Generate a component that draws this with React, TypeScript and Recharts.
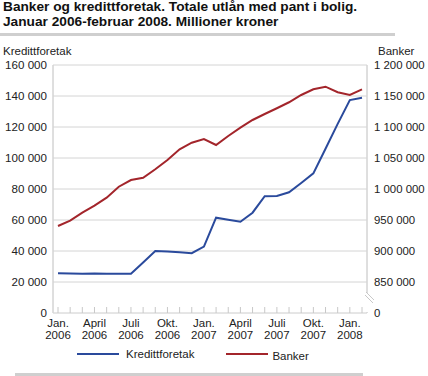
import { LineChart, Line, XAxis, YAxis, CartesianGrid } from 'recharts';

const months = [
  '2006-01', '2006-02', '2006-03', '2006-04', '2006-05', '2006-06', '2006-07', '2006-08', '2006-09',
  '2006-10', '2006-11', '2006-12', '2007-01', '2007-02', '2007-03', '2007-04', '2007-05', '2007-06',
  '2007-07', '2007-08', '2007-09', '2007-10', '2007-11', '2007-12', '2008-01', '2008-02',
];

const kredittforetak = [
  25600, 25500, 25400, 25500, 25300, 25300, 25300, 32600, 40000, 39700, 39200, 38600, 42800,
  61500, 60200, 58900, 64700, 75400, 75500, 77900, 83900, 90100, 106000, 122000, 137400, 138900,
];

const banker = [
  940300, 948900, 961800, 973100, 986000, 1003700, 1014500, 1018200, 1031800, 1046800, 1064000,
  1074700, 1080600, 1071000, 1085500, 1098900, 1111300, 1121000, 1130200, 1139900, 1151600,
  1160800, 1165000, 1156000, 1151600, 1160800,
];

// quarter labels on the x axis
const quarterLabels: Record<string, [string, string]> = {
  '2006-01': ['Jan.', '2006'],
  '2006-04': ['April', '2006'],
  '2006-07': ['Juli', '2006'],
  '2006-10': ['Okt.', '2006'],
  '2007-01': ['Jan.', '2007'],
  '2007-04': ['April', '2007'],
  '2007-07': ['Juli', '2007'],
  '2007-10': ['Okt.', '2007'],
  '2008-01': ['Jan.', '2008'],
};
const quarterMonths = Object.keys(quarterLabels);

const leftTicks = [0, 20000, 40000, 60000, 80000, 100000, 120000, 140000, 160000];
// right axis is broken: the bottom tick stands for 0
const rightTicks = [800000, 850000, 900000, 950000, 1000000, 1050000, 1100000, 1150000, 1200000];

const data = months.map((m, i) => ({ month: m, Kredittforetak: kredittforetak[i], Banker: banker[i] }));

const FONT = '"Liberation Sans", Arial, sans-serif';
const BLUE = '#2a4a9c';
const RED = '#a3252b';
const GRID = '#d4d4d4';

const fmt = (v: number) => v.toLocaleString('en-US').replace(/,/g, ' ');

const MonthTick = (props: any) => {
  const { x, y, payload } = props;
  const q = quarterLabels[payload.value];
  return (
    <g>
      <line x1={x} x2={x} y1={y} y2={y - 6} stroke="#c8c8c8" />
      {q && (
        <text x={x} y={y} textAnchor="middle" fontSize={11.5} fill="#222" fontFamily={FONT}>
          <tspan x={x} dy={14}>{q[0]}</tspan>
          <tspan x={x} dy={11.5}>{q[1]}</tspan>
        </text>
      )}
    </g>
  );
};

const RightTick = (props: any) => {
  const { x, y, payload } = props;
  const isBreak = payload.value === 800000;
  return (
    <g>
      {isBreak && (
        <g>
          <rect x={x - 10} y={y - 20} width={9} height={19} fill="#fff" />
          <line x1={x - 9} y1={y - 18} x2={x - 1} y2={y - 10} stroke="#c8c8c8" />
          <line x1={x - 8} y1={y - 21} x2={x} y2={y - 13} stroke="#c8c8c8" />
        </g>
      )}
      <text x={x} y={y} dy="0.355em" textAnchor="start" fontSize={11.4} fill="#222" fontFamily={FONT}>
        {isBreak ? '0' : fmt(payload.value)}
      </text>
    </g>
  );
};

export default function App() {
  return (
    <div style={{ position: 'absolute', left: 0, top: 0, width: 428, height: 376, background: '#fff', fontFamily: FONT, color: '#111' }}>
      <div style={{ position: 'absolute', left: 3, top: 0, fontSize: 13.7, fontWeight: 'bold', lineHeight: '14.5px' }}>
        Banker og kredittforetak. Totale utlån med pant i bolig.
        <br />
        Januar 2006-februar 2008. Millioner kroner
      </div>
      <div style={{ position: 'absolute', left: 0, top: 33, width: 395, height: 3, background: '#cfcfcf' }} />
      <div style={{ position: 'absolute', left: 3, top: 45, fontSize: 11.5, color: '#222' }}>Kredittforetak</div>
      <div style={{ position: 'absolute', left: 378, top: 45, fontSize: 11.5, color: '#222' }}>Banker</div>

      <div style={{ position: 'absolute', left: 0, top: 0 }}>
        <LineChart width={428} height={376} data={data} margin={{ top: 65, right: 0, bottom: 33, left: 0 }}>
          <CartesianGrid yAxisId="left" xAxisId="q" stroke={GRID} />
          <XAxis
            dataKey="month"
            interval={0}
            tick={<MonthTick />}
            tickLine={false}
            tickSize={0}
            tickMargin={0}
            height={30}
            padding={{ left: 5, right: 5 }}
            axisLine={{ stroke: '#e2e2e2' }}
          />
          <XAxis
            xAxisId="q"
            dataKey="month"
            ticks={quarterMonths}
            interval={0}
            tick={false}
            tickLine={false}
            axisLine={false}
            height={0}
            padding={{ left: 5, right: 5 }}
          />
          <YAxis
            yAxisId="left"
            width={53}
            domain={[0, 160000]}
            ticks={leftTicks}
            tickFormatter={fmt}
            tickLine={false}
            tickSize={0}
            tickMargin={6}
            axisLine={{ stroke: GRID }}
            tick={{ fontSize: 11.6, fill: '#222', fontFamily: FONT }}
          />
          <YAxis
            yAxisId="right"
            orientation="right"
            width={61}
            domain={[800000, 1200000]}
            ticks={rightTicks}
            tickLine={false}
            tickSize={0}
            tickMargin={7}
            axisLine={{ stroke: GRID }}
            tick={<RightTick />}
          />
          <Line yAxisId="left" dataKey="Kredittforetak" stroke={BLUE} strokeWidth={2} dot={false} isAnimationActive={false} />
          <Line yAxisId="right" dataKey="Banker" stroke={RED} strokeWidth={2} dot={false} isAnimationActive={false} />
        </LineChart>
      </div>

      <div style={{ position: 'absolute', left: 77, top: 348, fontSize: 11.5, color: '#222', display: 'flex', alignItems: 'center' }}>
        <svg width={42} height={4}><line x1={0} x2={42} y1={2} y2={2} stroke={BLUE} strokeWidth={2} /></svg>
        <span style={{ marginLeft: 7 }}>Kredittforetak</span>
        <svg width={42} height={4} style={{ marginLeft: 32 }}><line x1={0} x2={42} y1={2} y2={2} stroke={RED} strokeWidth={2} /></svg>
        <span style={{ marginLeft: 4, position: 'relative', top: 2 }}>Banker</span>
      </div>
      <div style={{ position: 'absolute', left: 15, top: 373, width: 348, height: 3, background: '#cfcfcf' }} />
    </div>
  );
}
